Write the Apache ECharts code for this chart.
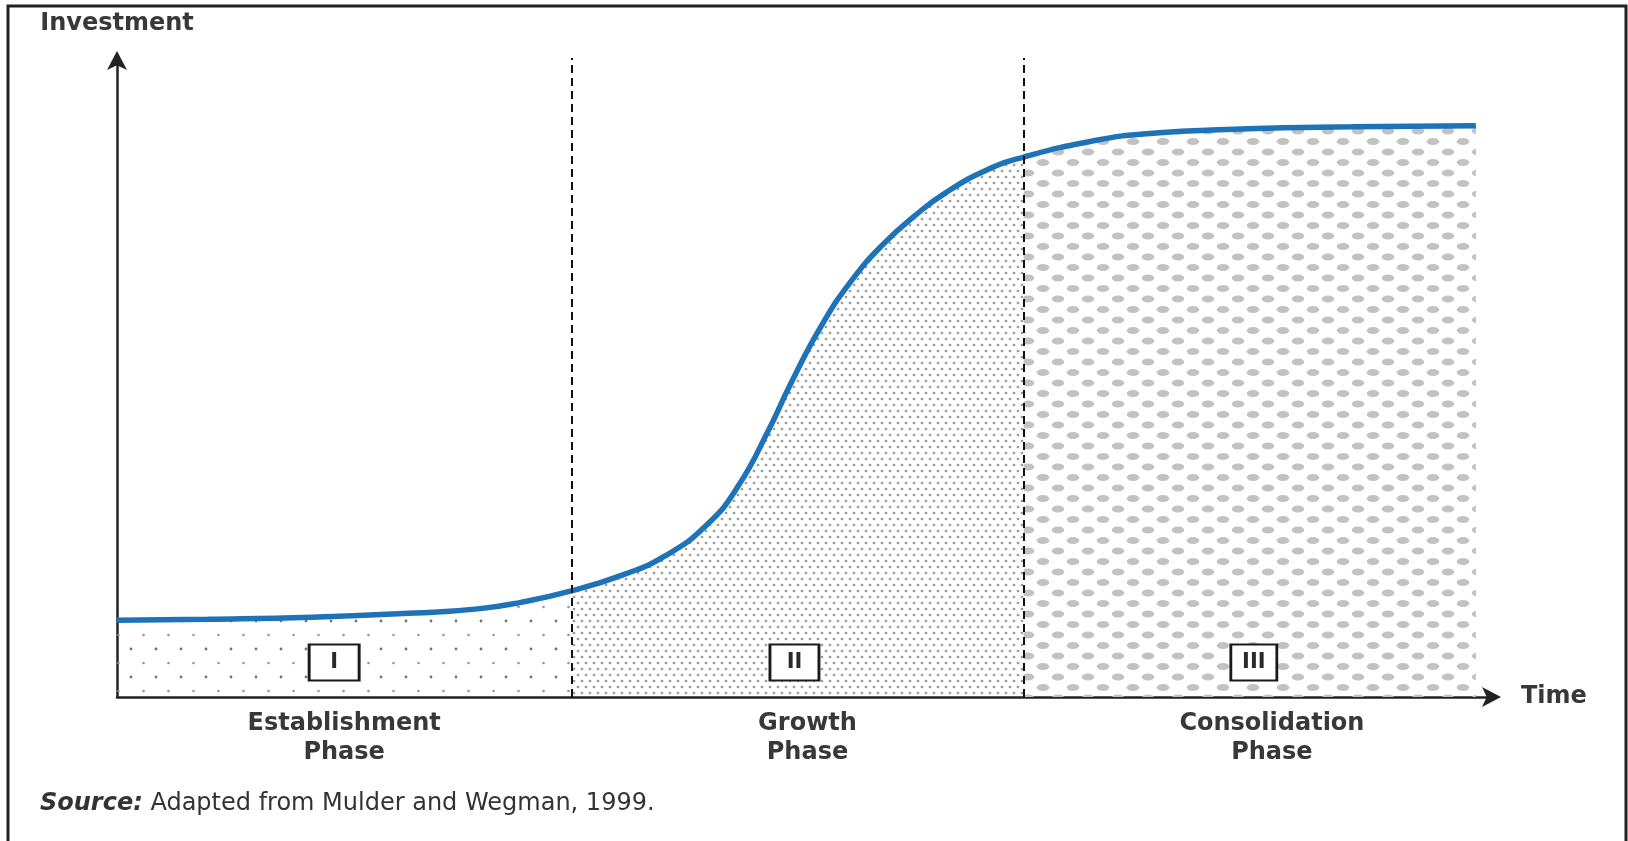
<!DOCTYPE html>
<html><head><meta charset="utf-8">
<script src="https://cdn.jsdelivr.net/npm/echarts@6/dist/echarts.min.js"></script>
<style>html,body{margin:0;padding:0;background:#fff}#chart{width:1628px;height:841px}</style>
</head><body><div id="chart"></div>
<script>
// ---- data ----
const timeValues = [0, 6.62, 14.21, 21.8, 26.35, 29.39, 33.16, 36.97, 40.0, 43.04, 45.32, 47.6, 49.11, 51.39, 53.67, 55.95, 58.22, 60.5, 63.53, 66.18, 71.12, 74.91, 82.5, 90.09, 99.19];
const investmentValues = [12.0, 12.17, 12.49, 13.14, 13.79, 14.77, 16.6, 19.15, 22.07, 26.93, 32.94, 41.94, 48.76, 58.01, 65.31, 70.91, 75.29, 78.94, 82.51, 84.5, 86.97, 88.11, 88.92, 89.24, 89.4];
const phaseBoundaries = [33.16, 66.18];
const phaseNames = ['Establishment\nPhase', 'Growth\nPhase', 'Consolidation\nPhase'];
const phaseLabelPositions = [16.58, 50.4, 84.3];
const phaseNumerals = ['I', 'II', 'III'];
const numeralX = [15.85, 49.45, 82.98];
const numeralY = [5.4, 5.4, 5.4];
const sourceText = 'Adapted from Mulder and Wegman, 1999.';

// ---- build ----
const allPoints = timeValues.map((t, i) => [t, investmentValues[i]]);
const edges = [timeValues[0]].concat(phaseBoundaries, [timeValues[timeValues.length - 1]]);
const segments = [0, 1, 2].map(k => allPoints.filter(p => p[0] >= edges[k] && p[0] <= edges[k + 1]));

function makePattern(w, h, draw) {
  const c = document.createElement('canvas');
  c.width = w; c.height = h;
  const g = c.getContext('2d');
  draw(g);
  return c;
}
function ell(g, x, y, rx, ry, col) {
  g.fillStyle = col; g.beginPath(); g.ellipse(x, y, rx, ry, 0, 0, Math.PI * 2); g.fill();
}
const pat1 = makePattern(25, 28, g => { ell(g, 6, 5, 1.4, 1.4, '#737373'); ell(g, 18.5, 19, 1.3, 1.3, '#969696'); });
const pat2 = makePattern(8, 12, g => { ell(g, 2, 3, 1.4, 1.25, '#9c9c9c'); ell(g, 6, 9, 1.4, 1.25, '#9c9c9c'); });
const pat3 = makePattern(30, 21, g => { ell(g, 8, 5, 6.3, 3.5, '#c2c2c2'); ell(g, 23, 15.5, 6.3, 3.5, '#c2c2c2'); });
const patterns = [pat1, pat2, pat3];

const fontFam = 'DejaVu Sans';
const textCol = '#383838';

const areaSeries = segments.map((seg, k) => ({
  type: 'line', data: seg, smooth: 0.5, symbol: 'none', silent: true,
  lineStyle: { width: 0, opacity: 0 },
  areaStyle: { color: { image: patterns[k], repeat: 'repeat' }, opacity: 1 },
  z: 1
}));

const chart = echarts.init(document.getElementById('chart'), null, { renderer: 'canvas' });
chart.setOption({
  animation: false,
  backgroundColor: '#fff',
  grid: { left: 117, right: 141, top: 58, bottom: 144, containLabel: false, outerBoundsMode: 'none' },
  xAxis: {
    type: 'value', min: 0, max: 100,
    axisLine: { show: true, lineStyle: { color: '#222', width: 2.5 }, symbol: ['none', 'arrow'], symbolSize: [15, 19], symbolOffset: [0, 14] },
    axisTick: { show: false }, splitLine: { show: false },
    axisLabel: {
      customValues: phaseLabelPositions,
      formatter: v => { let best = 0; phaseLabelPositions.forEach((p, i) => { if (Math.abs(p - v) < Math.abs(phaseLabelPositions[best] - v)) best = i; }); return phaseNames[best]; },
      fontFamily: fontFam, fontWeight: 'bold', fontSize: 24, lineHeight: 29, color: textCol, margin: 12, align: 'center'
    },
    name: 'Time', nameLocation: 'end', nameGap: 34,
    nameTextStyle: { fontFamily: fontFam, fontWeight: 'bold', fontSize: 24, color: textCol }
  },
  yAxis: {
    type: 'value', min: 0, max: 100,
    axisLine: { show: true, lineStyle: { color: '#222', width: 2.5 }, symbol: ['none', 'arrow'], symbolSize: [15, 19], symbolOffset: [0, 7] },
    axisTick: { show: false }, splitLine: { show: false }, axisLabel: { show: false },
    name: 'Investment', nameLocation: 'end', nameGap: 22,
    nameTextStyle: { fontFamily: fontFam, fontWeight: 'bold', fontSize: 24, color: textCol, align: 'center' }
  },
  graphic: [
    { type: 'rect', shape: { x: 8, y: 6, width: 1618, height: 860 }, style: { fill: 'none', stroke: '#222', lineWidth: 3 }, silent: true },
    { type: 'text', left: 40, top: 792, style: {
      text: '{b|Source:} ' + sourceText,
      font: '24px "DejaVu Sans"', fill: '#333',
      rich: { b: { fontFamily: fontFam, fontWeight: 'bold', fontStyle: 'italic', fontSize: 24, fill: '#333' } }
    } }
  ],
  series: areaSeries.concat([{
    type: 'line', data: allPoints, smooth: 0.5, symbol: 'none', silent: true,
    lineStyle: { color: '#1e72b8', width: 5.5 }, z: 3,
    markLine: {
      silent: true, symbol: 'none', label: { show: false },
      lineStyle: { color: '#111', width: 2, type: [8, 5] },
      data: phaseBoundaries.map(b => ({ xAxis: b }))
    },
    markPoint: {
      silent: true, symbol: 'rect',
      itemStyle: { color: '#fff', borderColor: '#1a1a1a', borderWidth: 2.5 },
      label: { show: true, position: 'inside', formatter: p => p.name, fontFamily: fontFam, fontWeight: 'bold', fontSize: 21, color: '#2a2a2a' },
      data: phaseNumerals.map((n, i) => ({ name: n, coord: [numeralX[i], numeralY[i]], symbolSize: [[50, 36], [49, 36], [46, 36]][i] }))
    }
  }])
});
</script></body></html>
